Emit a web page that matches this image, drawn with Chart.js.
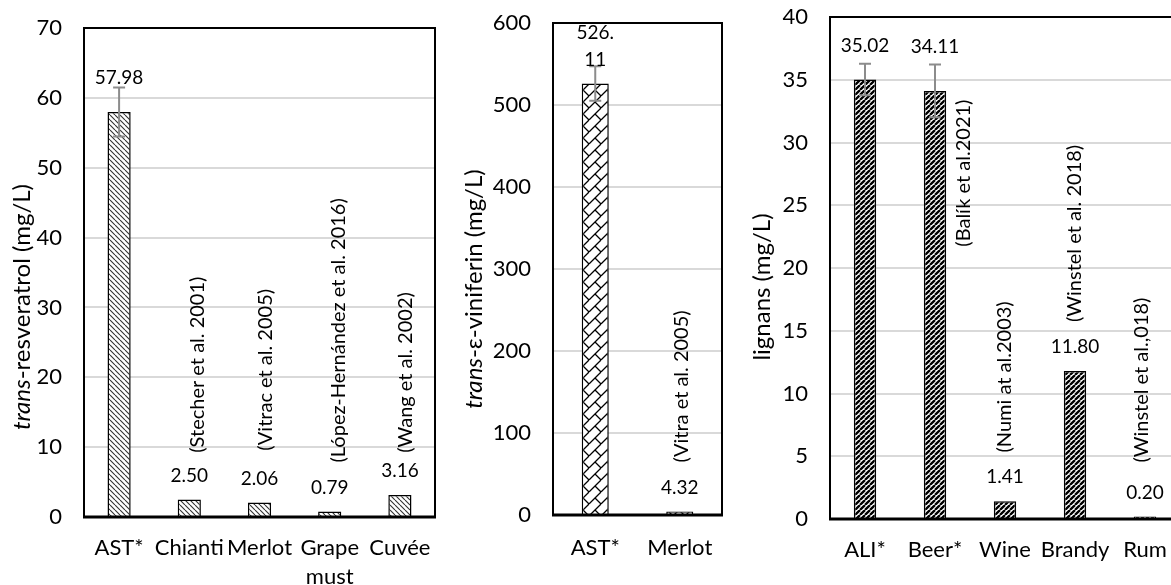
<!DOCTYPE html>
<html>
<head>
<meta charset="utf-8">
<script src="https://cdn.jsdelivr.net/npm/chart.js@4.4.1/dist/chart.umd.min.js"></script>
<style>
  html, body { margin: 0; padding: 0; background: #fff; overflow: hidden; width: 1171px; height: 585px; }
  canvas { position: absolute; top: 0; }
</style>
</head>
<body>
<canvas id="c1" width="450" height="585" style="left:0"></canvas>
<canvas id="c2" width="300" height="585" style="left:445px"></canvas>
<canvas id="c3" width="445" height="585" style="left:740px"></canvas>
<script>
// ---- data ----
const resvLabels = ["AST*", "Chianti", "Merlot", ["Grape", "must"], "Cuvée"];
const resvValues = [57.98, 2.50, 2.06, 0.79, 3.16];
const resvErrors = [3.5, 0, 0, 0, 0];
const resvCites = ["", "(Stecher et al. 2001)", "(Vitrac et al. 2005)", "(López-Hernández et al. 2016)", "(Wang et al. 2002)"];

const vinLabels = ["AST*", "Merlot"];
const vinValues = [526.11, 4.32];
const vinErrors = [21, 0];
const vinCites = ["", "(Vitra et al. 2005)"];

const lignLabels = ["ALI*", "Beer*", "Wine", "Brandy", "Rum"];
const lignValues = [35.02, 34.11, 1.41, 11.80, 0.20];
const lignErrors = [1.25, 2.1, 0, 0, 0];
const lignCites = ["", "(Balík et al.2021)", "(Numi at al.2003)", "(Winstel et al. 2018)", "(Winstel et al.,018)"];

// where the citation texts sit (value of their lower end, px shift from category centre)
const resvCiteBase = [0, 9.2, 9.5, 7.8, 9.2];
const resvCiteDx = [0, 8, 6, 9, 6];
const vinCiteBase = [0, 64];
const vinCiteDx = [0, 2];
const lignCiteBase = [0, 21.7, 5.3, 15.7, 4.5];
const lignCiteDx = [0, 29, 0, 0, -3];

const TXT = '#000';

// hatch fills
function hatch(kind) {
  const c = document.createElement('canvas');
  const s = kind === 'brick' ? 12 : 5;
  c.width = c.height = s;
  const g = c.getContext('2d');
  g.fillStyle = '#fff';
  g.fillRect(0, 0, s, s);
  g.strokeStyle = '#000';
  g.beginPath();
  if (kind === 'back') {
    g.lineWidth = 1.1;
    g.strokeStyle = '#333';
    for (let x0 = -s; x0 <= s; x0 += s) { g.moveTo(x0, 0); g.lineTo(x0 + s, s); }
  } else if (kind === 'fwd') {
    g.lineWidth = 2.3;
    for (let x0 = -s; x0 <= s; x0 += s) { g.moveTo(x0, s); g.lineTo(x0 + s, 0); }
  } else {
    g.lineWidth = 1.3;
    for (let x0 = -s; x0 <= s; x0 += s) { g.moveTo(x0, s); g.lineTo(x0 + s, 0); }
    g.moveTo(s / 2, s / 2); g.lineTo(s, s);
    g.moveTo(-s / 2, -s / 2); g.lineTo(0, 0);
  }
  g.stroke();
  return g.createPattern(c, 'repeat');
}

const extras = {
  id: 'extras',
  afterDatasetsDraw(chart, args, o) {
    const ctx = chart.ctx, xs = chart.scales.x, ys = chart.scales.y;
    const meta = chart.getDatasetMeta(0);
    const vals = chart.data.datasets[0].data;
    ctx.save();
    // error bars
    ctx.strokeStyle = '#8c8c8c';
    ctx.lineWidth = 2;
    o.errors.forEach((e, i) => {
      if (!e) return;
      const cx = meta.data[i].x;
      const top = ys.getPixelForValue(vals[i] + e);
      const bot = ys.getPixelForValue(vals[i] - e);
      ctx.beginPath();
      ctx.moveTo(cx, top); ctx.lineTo(cx, bot);
      ctx.moveTo(cx - 6, top); ctx.lineTo(cx + 6, top);
      ctx.moveTo(cx - 6, bot); ctx.lineTo(cx + 6, bot);
      ctx.stroke();
    });
    // value labels
    ctx.fillStyle = TXT;
    ctx.font = '19px Lato';
    ctx.textAlign = 'center';
    ctx.textBaseline = 'middle';
    vals.forEach((v, i) => {
      const cx = meta.data[i].x;
      let txt = v.toFixed(2);
      let lines = (o.wrap && txt.length > 5) ? [txt.slice(0, txt.indexOf('.') + 1), txt.slice(txt.indexOf('.') + 1)] : [txt];
      let yy = o.errors[i] ? ys.getPixelForValue(v + o.errors[i]) - o.errLift : ys.getPixelForValue(v) - 24;
      for (let k = lines.length - 1; k >= 0; k--) { ctx.fillText(lines[k], cx, yy); yy -= 27; }
    });
    // citations, vertical
    ctx.font = '20px Lato';
    ctx.textAlign = 'left';
    o.cites.forEach((t, i) => {
      if (!t) return;
      ctx.save();
      ctx.translate(xs.getPixelForValue(i) + o.citeDx[i], ys.getPixelForValue(o.citeBase[i]));
      ctx.rotate(-Math.PI / 2);
      ctx.fillText(t, 0, 0);
      ctx.restore();
    });
    ctx.restore();
  },
  afterDraw(chart, args, o) {
    const ctx = chart.ctx, a = chart.chartArea;
    ctx.save();
    ctx.strokeStyle = '#000';
    ctx.lineWidth = 2;
    ctx.beginPath();
    ctx.moveTo(a.left, a.bottom); ctx.lineTo(a.left, a.top); ctx.lineTo(a.right, a.top);
    if (o.box) ctx.lineTo(a.right, a.bottom);
    ctx.stroke();
    ctx.lineWidth = 3;
    ctx.beginPath();
    ctx.moveTo(a.left - 1, a.bottom); ctx.lineTo(a.right + 1, a.bottom);
    ctx.stroke();
    // y title with italic part
    ctx.fillStyle = TXT;
    ctx.textBaseline = 'middle';
    ctx.textAlign = 'left';
    let w = 0;
    o.title.forEach(p => { ctx.font = (p.i ? 'italic ' : '') + '24px Lato'; w += ctx.measureText(p.t).width; });
    ctx.translate(o.titleX, o.titleY);
    ctx.rotate(-Math.PI / 2);
    let x = -w / 2;
    o.title.forEach(p => {
      ctx.font = (p.i ? 'italic ' : '') + '24px Lato';
      ctx.fillText(p.t, x, 0);
      x += ctx.measureText(p.t).width;
    });
    ctx.restore();
  }
};

function makeChart(id, labels, values, fill, cfg) {
  return new Chart(document.getElementById(id), {
    type: 'bar',
    data: {
      labels: labels,
      datasets: [{
        data: values,
        backgroundColor: fill,
        borderColor: '#000',
        borderWidth: 1.5,
        barPercentage: cfg.barPct,
        categoryPercentage: 1
      }]
    },
    options: {
      responsive: false,
      animation: false,
      layout: { padding: { top: cfg.top, right: cfg.right, left: 0, bottom: 0 } },
      plugins: {
        legend: { display: false },
        tooltip: { enabled: false },
        extras: cfg.extras
      },
      scales: {
        x: {
          grid: { display: false, drawTicks: false },
          border: { display: false },
          ticks: { color: TXT, font: { family: 'Lato', size: 22, lineHeight: 1.3 }, padding: cfg.xPad, autoSkip: false, maxRotation: 0 },
          afterFit: s => { s.height = cfg.xH; s.paddingLeft = 0; s.paddingRight = 0; }
        },
        y: {
          min: 0, max: cfg.max,
          grid: { color: '#d9d9d9', lineWidth: 2, drawTicks: false },
          border: { display: false },
          ticks: { stepSize: cfg.step, color: TXT, font: { family: 'Lato', size: 22 }, padding: 22 },
          afterFit: s => { s.width = cfg.yW; s.paddingTop = 0; s.paddingBottom = 0; }
        }
      }
    },
    plugins: [extras]
  });
}

makeChart('c1', resvLabels, resvValues, hatch('back'), {
  barPct: 0.33, top: 28, right: 15, xPad: 17, xH: 68, yW: 84, max: 70, step: 10,
  extras: {
    errors: resvErrors, errLift: 10, cites: resvCites, citeBase: resvCiteBase, citeDx: resvCiteDx,
    box: true, titleX: 22, titleY: 307,
    title: [{ t: 'trans', i: true }, { t: '-resveratrol (mg/L)' }]
  }
});

makeChart('c2', vinLabels, vinValues, hatch('brick'), {
  barPct: 0.32, top: 23, right: 23, xPad: 19, xH: 70, yW: 108, max: 600, step: 100,
  extras: {
    errors: vinErrors, errLift: 6, wrap: true, cites: vinCites, citeBase: vinCiteBase, citeDx: vinCiteDx,
    box: true, titleX: 29, titleY: 289,
    title: [{ t: 'trans', i: true }, { t: '-ɛ-viniferin (mg/L)' }]
  }
});

makeChart('c3', lignLabels, lignValues, hatch('fwd'), {
  barPct: 0.32, top: 17, right: 5, xPad: 17, xH: 66, yW: 90, max: 40, step: 5,
  extras: {
    errors: lignErrors, errLift: 18, cites: lignCites, citeBase: lignCiteBase, citeDx: lignCiteDx,
    box: false, titleX: 22, titleY: 287,
    title: [{ t: 'lignans (mg/L)' }]
  }
});
</script>
</body>
</html>
